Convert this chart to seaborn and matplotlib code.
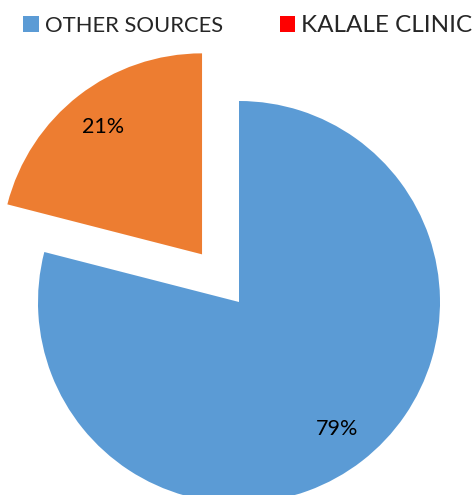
import matplotlib
matplotlib.use("Agg")
import matplotlib.pyplot as plt
import seaborn as sns
from matplotlib.patches import Patch

categories = ["OTHER SOURCES", "KALALE CLINIC"]
values = [79, 21]
slice_colors = ["#5B9BD5", "#ED7D31"]
legend_colors = ["#5B9BD5", "#FF0000"]

sns.set_theme(style="white")
plt.rcParams["font.family"] = ["Lato", "DejaVu Sans"]

W, H = 475, 495
fig = plt.figure(figsize=(W / 100, H / 100), dpi=100)
ax = fig.add_axes([0, 0, 1, 1])

wedges, texts, autotexts = ax.pie(
    values,
    colors=slice_colors,
    startangle=90,
    counterclock=False,
    explode=[0, 0.30],
    autopct=lambda p: f"{p:.0f}%",
    pctdistance=0.8,
    radius=1.0,
    wedgeprops=dict(linewidth=0),
    textprops=dict(fontsize=15.5, color="black"),
)

# map data units to pixels: radius 201 px, centre at (239, 302) from top-left
s = 201.0
cx, cy = 239.0, 302.0
ax.set_xlim(-cx / s, (W - cx) / s)
ax.set_ylim(-(H - cy) / s, cy / s)
ax.set_aspect("auto")
ax.axis("off")

handles = [Patch(facecolor=c, edgecolor="none") for c in legend_colors]
leg = fig.legend(
    handles, categories,
    loc="center left", bbox_to_anchor=(0.049, 0.949),
    ncol=2, frameon=False, fontsize=15.8,
    handlelength=0.7, handleheight=0.7, handletextpad=0.28,
    columnspacing=2.6, borderaxespad=0, borderpad=0,
)
leg.get_texts()[1].set_fontsize(17.5)

fig.savefig("out.png", dpi=100)
